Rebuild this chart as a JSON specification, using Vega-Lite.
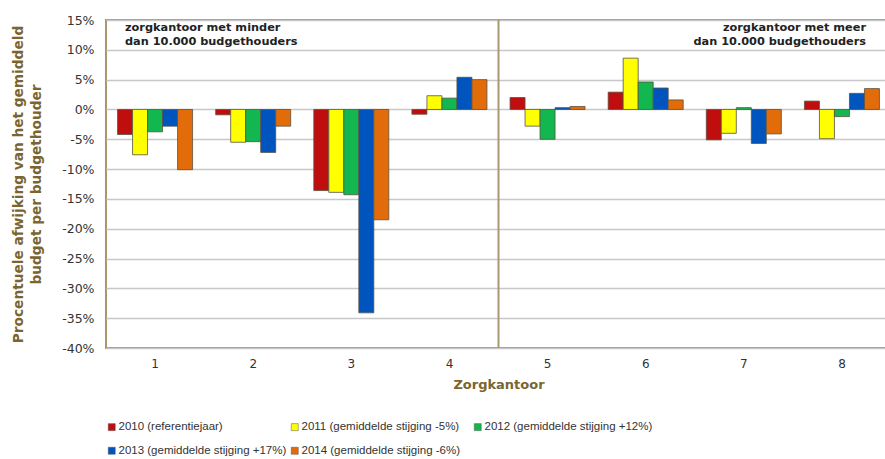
{
  "$schema": "https://vega.github.io/schema/vega-lite/v6.json",
  "autosize": {"type": "none"},
  "padding": {"left": 106, "top": 20, "right": 0, "bottom": 111},
  "width": 785,
  "height": 328,
  "background": "white",
  "config": {
    "font": "DejaVu Sans",
    "view": {"stroke": "#a89870", "strokeWidth": 2}
  },
  "resolve": {"axis": {"y": "independent", "x": "independent"}},
  "data": {
    "values": [
      {"k": "1", "s": "2010 (referentiejaar)", "v": -4.2},
      {"k": "1", "s": "2011 (gemiddelde stijging -5%)", "v": -7.6},
      {"k": "1", "s": "2012 (gemiddelde stijging +12%)", "v": -3.75},
      {"k": "1", "s": "2013 (gemiddelde stijging +17%)", "v": -2.8},
      {"k": "1", "s": "2014 (gemiddelde stijging -6%)", "v": -10.1},
      {"k": "2", "s": "2010 (referentiejaar)", "v": -0.9},
      {"k": "2", "s": "2011 (gemiddelde stijging -5%)", "v": -5.5},
      {"k": "2", "s": "2012 (gemiddelde stijging +12%)", "v": -5.4},
      {"k": "2", "s": "2013 (gemiddelde stijging +17%)", "v": -7.2},
      {"k": "2", "s": "2014 (gemiddelde stijging -6%)", "v": -2.8},
      {"k": "3", "s": "2010 (referentiejaar)", "v": -13.6},
      {"k": "3", "s": "2011 (gemiddelde stijging -5%)", "v": -13.9},
      {"k": "3", "s": "2012 (gemiddelde stijging +12%)", "v": -14.3},
      {"k": "3", "s": "2013 (gemiddelde stijging +17%)", "v": -34.1},
      {"k": "3", "s": "2014 (gemiddelde stijging -6%)", "v": -18.5},
      {"k": "4", "s": "2010 (referentiejaar)", "v": -0.8},
      {"k": "4", "s": "2011 (gemiddelde stijging -5%)", "v": 2.3},
      {"k": "4", "s": "2012 (gemiddelde stijging +12%)", "v": 1.9},
      {"k": "4", "s": "2013 (gemiddelde stijging +17%)", "v": 5.4},
      {"k": "4", "s": "2014 (gemiddelde stijging -6%)", "v": 5.0},
      {"k": "5", "s": "2010 (referentiejaar)", "v": 2.0},
      {"k": "5", "s": "2011 (gemiddelde stijging -5%)", "v": -2.8},
      {"k": "5", "s": "2012 (gemiddelde stijging +12%)", "v": -5.0},
      {"k": "5", "s": "2013 (gemiddelde stijging +17%)", "v": 0.3},
      {"k": "5", "s": "2014 (gemiddelde stijging -6%)", "v": 0.5},
      {"k": "6", "s": "2010 (referentiejaar)", "v": 2.9},
      {"k": "6", "s": "2011 (gemiddelde stijging -5%)", "v": 8.6},
      {"k": "6", "s": "2012 (gemiddelde stijging +12%)", "v": 4.6},
      {"k": "6", "s": "2013 (gemiddelde stijging +17%)", "v": 3.6},
      {"k": "6", "s": "2014 (gemiddelde stijging -6%)", "v": 1.6},
      {"k": "7", "s": "2010 (referentiejaar)", "v": -5.1},
      {"k": "7", "s": "2011 (gemiddelde stijging -5%)", "v": -4.0},
      {"k": "7", "s": "2012 (gemiddelde stijging +12%)", "v": 0.3},
      {"k": "7", "s": "2013 (gemiddelde stijging +17%)", "v": -5.7},
      {"k": "7", "s": "2014 (gemiddelde stijging -6%)", "v": -4.1},
      {"k": "8", "s": "2010 (referentiejaar)", "v": 1.4},
      {"k": "8", "s": "2011 (gemiddelde stijging -5%)", "v": -4.9},
      {"k": "8", "s": "2012 (gemiddelde stijging +12%)", "v": -1.2},
      {"k": "8", "s": "2013 (gemiddelde stijging +17%)", "v": 2.7},
      {"k": "8", "s": "2014 (gemiddelde stijging -6%)", "v": 3.5}
    ]
  },
  "layer": [
    {
      "mark": {"type": "bar", "stroke": "#5a5040", "strokeWidth": 0.8},
      "encoding": {
        "x": {
          "field": "k", "type": "nominal",
          "scale": {"paddingInner": 0, "paddingOuter": 0},
          "axis": {
            "title": "Zorgkantoor", "titleFont": "DejaVu Sans", "titleFontSize": 13, "titleFontWeight": "bold",
            "titleColor": "#7a6530", "titlePadding": 9,
            "labelAngle": 0, "labelFontSize": 12, "labelColor": "#333333", "labelPadding": 10,
            "ticks": false, "domain": false
          }
        },
        "xOffset": {
          "field": "s", "type": "nominal",
          "scale": {"paddingInner": 0, "paddingOuter": 0.77}
        },
        "y": {
          "field": "v", "type": "quantitative",
          "scale": {"domain": [-40, 15], "nice": false},
          "axis": {
            "values": [-40, -35, -30, -25, -20, -15, -10, -5, 0, 5, 10, 15],
            "labelExpr": "datum.value + '%'",
            "labelOverlap": false,
            "title": ["Procentuele afwijking van het gemiddeld", "budget per budgethouder"],
            "titleFontSize": 13.7, "titleFontWeight": "bold", "titleColor": "#7a6530",
            "titleAngle": -90, "titleAlign": "center", "titleBaseline": "middle",
            "titleX": -88, "titleY": 164, "titleLineHeight": 18,
            "labelFontSize": 12.5, "labelColor": "#333333", "labelPadding": 12,
            "ticks": false, "domain": false,
            "grid": true, "gridColor": "#c8c8c8", "gridWidth": 1.5
          }
        },
        "color": {
          "field": "s", "type": "nominal",
          "scale": {
            "domain": ["2010 (referentiejaar)", "2011 (gemiddelde stijging -5%)", "2012 (gemiddelde stijging +12%)", "2013 (gemiddelde stijging +17%)", "2014 (gemiddelde stijging -6%)"],
            "range": ["#c00d0d", "#ffff00", "#12b84f", "#0054be", "#e36c0a"]
          },
          "legend": {
            "title": null, "orient": "none", "legendX": 0, "legendY": 401, "padding": 0,
            "direction": "horizontal", "columns": 3, "gridAlign": "all",
            "columnPadding": 2, "rowPadding": 11,
            "symbolType": "square", "symbolSize": 49, "symbolStrokeColor": "#555555", "symbolStrokeWidth": 0.5,
            "labelFont": "Liberation Sans", "labelFontSize": 11.5, "labelColor": "#333333",
            "labelOffset": 1, "labelLimit": 300
          }
        }
      }
    },
    {
      "data": {"values": [{"pos": "5"}]},
      "mark": {"type": "rule", "color": "#a89870", "strokeWidth": 2},
      "encoding": {
        "x": {"field": "pos", "type": "nominal", "bandPosition": 0, "axis": null}
      }
    },
    {
      "data": {"values": [{"pos": "1", "top": 15}]},
      "mark": {"type": "text", "align": "left", "baseline": "top", "fontWeight": "bold", "fontSize": 11.3, "color": "#222222", "lineHeight": 14, "dx": 19, "dy": 2},
      "encoding": {
        "x": {"field": "pos", "type": "nominal", "bandPosition": 0, "axis": null},
        "y": {"field": "top", "type": "quantitative", "axis": null},
        "text": {"value": ["zorgkantoor met minder", "dan 10.000 budgethouders"]}
      }
    },
    {
      "data": {"values": [{"pos": "8", "top": 15}]},
      "mark": {"type": "text", "align": "right", "baseline": "top", "fontWeight": "bold", "fontSize": 11.3, "color": "#222222", "lineHeight": 14, "dx": -25, "dy": 2},
      "encoding": {
        "x": {"field": "pos", "type": "nominal", "bandPosition": 1, "axis": null},
        "y": {"field": "top", "type": "quantitative", "axis": null},
        "text": {"value": ["zorgkantoor met meer", "dan 10.000 budgethouders"]}
      }
    }
  ]
}
